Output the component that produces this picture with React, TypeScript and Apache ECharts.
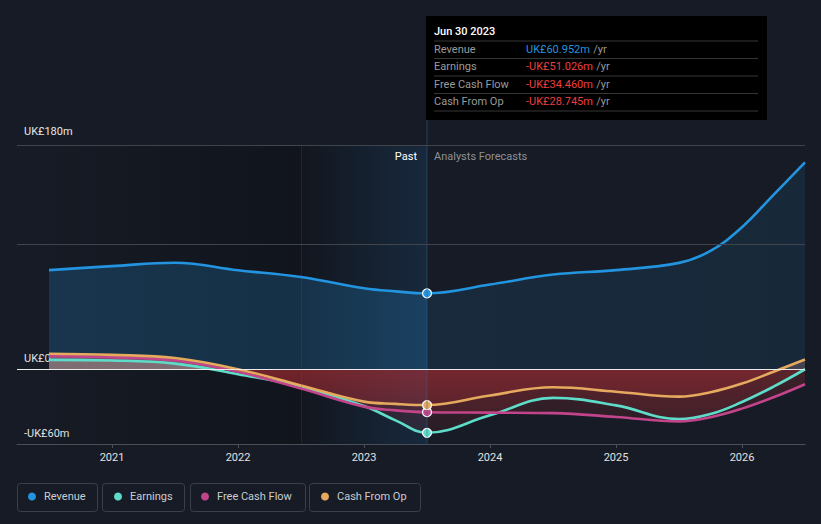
import { useEffect, useRef } from 'react';
import * as echarts from 'echarts';

// ---------- data ----------
const YEAR_TICKS = [2021, 2022, 2023, 2024, 2025, 2026];
const Y_LABEL_VALUES = [-60, 0, 180];
const GRID_LINE_VALUES = [180, 100];

const DATES = [2020.5, 2021.0, 2021.5, 2022.0, 2022.5, 2023.0, 2023.25, 2023.5, 2024.0, 2024.5, 2025.0, 2025.5, 2025.75, 2026.0, 2026.25, 2026.5];
const REVENUE = [79.6, 82.8, 85.5, 79.5, 74.0, 65.0, 62.5, 60.952, 68.0, 76.0, 79.6, 85.4, 95.0, 114.0, 140.0, 166.0];
const EARNINGS = [7.5, 7.0, 4.5, -4.0, -14.0, -29.5, -41.0, -51.026, -37.0, -23.0, -29.0, -40.0, -36.0, -26.3, -14.0, 0.0];
const FREE_CASH_FLOW = [10.5, 9.5, 7.0, -2.0, -15.5, -30.0, -33.0, -34.46, -34.8, -35.2, -38.3, -41.8, -38.5, -31.6, -22.5, -12.0];
const CASH_FROM_OP = [12.5, 11.5, 9.0, 0.0, -13.0, -26.0, -27.8, -28.745, -21.0, -14.5, -18.0, -22.0, -18.5, -11.5, -2.0, 7.8];

const SERIES_NAMES = ['Revenue', 'Earnings', 'Free Cash Flow', 'Cash From Op'];
const SERIES_VALUES = [REVENUE, EARNINGS, FREE_CASH_FLOW, CASH_FROM_OP];
const COLORS = ['#2394df', '#5fdcc9', '#c2448a', '#e6aa5e'];

const TOOLTIP_DATE = 'Jun 30 2023';
const PAST_START = 2022.5;
const PAST_END = 2023.5;
const X_MIN = 2020.246;
const X_MAX = 2026.5;
const Y_MIN = -60;
const Y_MAX = 180;

// ---------- layout ----------
const W = 821;
const H = 524;
const G_LEFT = 17;
const G_RIGHT = 16;
const G_TOP = 145;
const G_BOTTOM = 80;
const PLOT_W = W - G_LEFT - G_RIGHT;
const PLOT_H = H - G_TOP - G_BOTTOM;
const xPix = (v: number) => G_LEFT + ((v - X_MIN) / (X_MAX - X_MIN)) * PLOT_W;
const yPix = (v: number) => G_TOP + ((Y_MAX - v) / (Y_MAX - Y_MIN)) * PLOT_H;

const FONT = 'Roboto, "Noto Sans", sans-serif';

const fmtMoney = (v: number) => (v < 0 ? '-' : '') + 'UK£' + Math.abs(v).toFixed(3) + 'm';
const fmtAxis = (v: number) => {
  const t = v === 0 ? 'UK£0' : (v < 0 ? '-' : '') + 'UK£' + Math.abs(v) + 'm';
  return v === Y_MAX ? `{hi|${t}}` : t;
};

export default function App() {
  const ref = useRef<HTMLDivElement>(null);

  useEffect(() => {
    document.body.style.margin = '0';
    document.body.style.background = '#161b25';
    const chart = echarts.init(ref.current!, undefined, { renderer: 'svg' });

    const pastFrac = (xPix(PAST_END) - G_LEFT) / PLOT_W;
    const zeroFrac = (yPix(0) - G_TOP) / PLOT_H;
    const pastIdx = DATES.indexOf(PAST_END);

    const revenueArea = new echarts.graphic.LinearGradient(
      G_LEFT, 0, G_LEFT + PLOT_W, 0,
      [
        { offset: 0, color: 'rgba(35,148,223,0.22)' },
        { offset: pastFrac, color: 'rgba(35,148,223,0.22)' },
        { offset: pastFrac, color: 'rgba(35,148,223,0.12)' },
        { offset: 1, color: 'rgba(35,148,223,0.11)' },
      ],
      true
    );
    const lossArea = () =>
      new echarts.graphic.LinearGradient(
        0, G_TOP, 0, G_TOP + PLOT_H,
        [
          { offset: 0, color: 'rgba(220,160,150,0.22)' },
          { offset: zeroFrac, color: 'rgba(220,160,150,0.22)' },
          { offset: zeroFrac, color: 'rgba(215,50,55,0.2)' },
          { offset: 1, color: 'rgba(215,50,55,0.08)' },
        ],
        true
      );

    const areaSeries = SERIES_NAMES.map((name, i) => ({
      name: name + ' area',
      type: 'line',
      data: DATES.map((d, k) => [d, SERIES_VALUES[i][k]]),
      smooth: 0.4,
      symbol: 'none',
      silent: true,
      z: 2,
      lineStyle: { width: 0, opacity: 0 },
      areaStyle: { color: i === 0 ? revenueArea : lossArea(), opacity: 1 },
    }));

    const lineSeries = SERIES_NAMES.map((name, i) => ({
      name,
      type: 'line',
      data: DATES.map((d, k) => [d, SERIES_VALUES[i][k]]),
      smooth: 0.4,
      z: 3,
      showAllSymbol: true,
      symbol: (val: number[]) => (val[0] === PAST_END ? 'circle' : 'none'),
      symbolSize: 9,
      color: COLORS[i],
      itemStyle: { color: COLORS[i], borderColor: '#ffffff', borderWidth: 1.2 },
      lineStyle: { color: COLORS[i], width: 2.6 },
    }));

    const darkGrad = new echarts.graphic.LinearGradient(0, 0, 1, 0, [
      { offset: 0, color: 'rgba(0,0,0,0)' },
      { offset: 1, color: 'rgba(0,0,0,0.25)' },
    ]);
    const pastGrad = new echarts.graphic.LinearGradient(0, 0, 1, 0, [
      { offset: 0, color: 'rgba(0,0,0,0.18)' },
      { offset: 1, color: 'rgba(30,110,180,0.17)' },
    ]);

    const backdrop = {
      name: 'backdrop',
      type: 'line',
      data: [],
      z: 1,
      silent: true,
      markArea: {
        silent: true,
        data: [
          [{ xAxis: X_MIN, itemStyle: { color: darkGrad } }, { xAxis: PAST_START }],
          [{ xAxis: PAST_START, itemStyle: { color: pastGrad } }, { xAxis: PAST_END }],
        ],
      },
      markLine: {
        silent: true,
        symbol: ['none', 'none'],
        label: { show: false },
        data: [
          ...GRID_LINE_VALUES.map((v) => ({ yAxis: v, lineStyle: { color: '#3f444d', width: 1, type: 'solid' } })),
          { yAxis: 0, lineStyle: { color: '#ececec', width: 1, type: 'solid' } },
          { xAxis: PAST_START, lineStyle: { color: 'rgba(70,100,135,0.2)', width: 1, type: 'solid' } },
        ],
      },
    };

    // tooltip-like panel
    const tipX = xPix(PAST_END) - 1;
    const tipRows = SERIES_NAMES.map((name, i) => ({ name, value: SERIES_VALUES[i][pastIdx] }));
    const rowY = [49.5, 66.5, 84, 101];
    const sepY = [41, 58.5, 76, 93.5, 111];
    const graphics: any[] = [
      {
        type: 'line',
        silent: true,
        z: 5,
        shape: { x1: xPix(PAST_END), y1: 120, x2: xPix(PAST_END), y2: G_TOP + PLOT_H },
        style: { stroke: 'rgba(55,95,135,0.5)', lineWidth: 1 },
      },
      { type: 'rect', z: 10, shape: { x: tipX, y: 16, width: 341, height: 104 }, style: { fill: '#000000' } },
      {
        type: 'text', z: 11, x: tipX + 8, y: 31.5,
        style: { text: TOOLTIP_DATE, fill: '#ffffff', font: `500 11px ${FONT}`, verticalAlign: 'middle' },
      },
      ...sepY.map((y) => ({
        type: 'line', z: 11,
        shape: { x1: tipX + 8, y1: y, x2: tipX + 332, y2: y },
        style: { stroke: '#363636', lineWidth: 1 },
      })),
      ...tipRows.flatMap((r, i) => [
        {
          type: 'text', z: 11, x: tipX + 8, y: rowY[i],
          style: { text: r.name, fill: '#9a9a9a', font: `11px ${FONT}`, verticalAlign: 'middle' },
        },
        {
          type: 'text', z: 11, x: tipX + 100, y: rowY[i],
          style: {
            text: `{v|${fmtMoney(r.value)}} {u|/yr}`,
            verticalAlign: 'middle',
            rich: {
              v: { fill: r.value < 0 ? '#ec3f3f' : '#2394df', font: `11px ${FONT}` },
              u: { fill: '#9a9a9a', font: `11px ${FONT}` },
            },
          },
        },
      ]),
      {
        type: 'text', z: 6, x: xPix(PAST_END) - 10, y: 156,
        style: { text: 'Past', fill: '#ffffff', font: `11px ${FONT}`, align: 'right', verticalAlign: 'middle' },
      },
      {
        type: 'text', z: 6, x: xPix(PAST_END) + 7, y: 156,
        style: { text: 'Analysts Forecasts', fill: '#8e9196', font: `11px ${FONT}`, align: 'left', verticalAlign: 'middle' },
      },
    ];
    // legend boxes
    const boxes = [
      [17, 80],
      [102, 82],
      [190, 115],
      [309, 111],
    ];
    boxes.forEach(([x, w]) =>
      graphics.push({
        type: 'rect', z: 0, silent: true,
        shape: { x: x + 0.5, y: 483.5, width: w, height: 28, r: 3 },
        style: { fill: 'none', stroke: '#3a3f49', lineWidth: 1 },
      })
    );
    const legendLeft = [28, 114, 201, 321];

    chart.setOption({
      animation: false,
      backgroundColor: '#161b25',
      textStyle: { fontFamily: FONT },
      grid: { left: G_LEFT, right: G_RIGHT, top: G_TOP, bottom: G_BOTTOM, containLabel: false },
      xAxis: {
        type: 'value',
        min: X_MIN,
        max: X_MAX,
        axisLine: { show: true, onZero: false, lineStyle: { color: '#4a4f58', width: 1 } },
        axisTick: { show: true, customValues: YEAR_TICKS, length: 4, lineStyle: { color: '#4a4f58' } },
        axisLabel: {
          customValues: YEAR_TICKS,
          formatter: (v: number) => String(Math.round(v)),
          color: '#e2e2e2',
          fontSize: 11,
          margin: 8,
          fontFamily: FONT,
        },
        splitLine: { show: false },
      },
      yAxis: {
        type: 'value',
        min: Y_MIN,
        max: Y_MAX,
        axisLine: { show: false },
        axisTick: { show: false },
        splitLine: { show: false },
        axisLabel: {
          inside: true,
          customValues: Y_LABEL_VALUES,
          formatter: fmtAxis,
          verticalAlign: 'bottom',
          margin: 7,
          padding: [0, 0, 5, 0],
          color: '#e6e6e6',
          fontSize: 11,
          fontFamily: FONT,
          rich: {
            hi: { color: '#e6e6e6', fontSize: 11, fontFamily: FONT, padding: [0, 0, 3, 0] },
          },
        },
      },
      legend: SERIES_NAMES.map((name, i) => ({
        data: [name],
        left: legendLeft[i],
        top: 491,
        padding: 0,
        icon: 'circle',
        itemWidth: 8,
        itemHeight: 8,
        selectedMode: false,
        itemStyle: { borderWidth: 0 },
        textStyle: { color: '#c9cdd3', fontSize: 11, fontFamily: FONT, padding: [0, 0, 0, 3] },
      })),
      series: [backdrop, ...areaSeries, ...lineSeries],
      graphic: graphics,
    });

    return () => chart.dispose();
  }, []);

  return <div ref={ref} style={{ position: 'absolute', left: 0, top: 0, width: W, height: H }} />;
}
